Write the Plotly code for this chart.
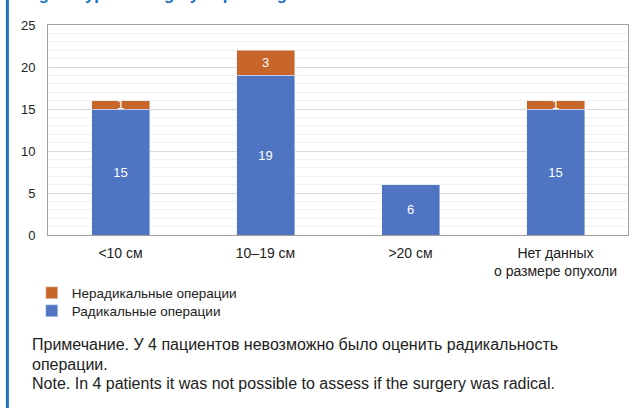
import plotly.graph_objects as go

categories = ["<10 см", "10–19 см", ">20 см", "Нет данных<br>о размере опухоли"]
radical = [15, 19, 6, 15]
nonradical = [1, 3, 0, 1]
legend_names = ["Радикальные операции", "Нерадикальные операции"]
note_lines = ["Примечание. У 4 пациентов невозможно было оценить радикальность",
              "операции.",
              "Note. In 4 patients it was not possible to assess if the surgery was radical."]
title_text = "Fig. 1. Type of surgery depending on tumor size"

BLUE = "#4E74C2"
ORANGE = "#C8662A"
FONT = "Liberation Sans, Arial, sans-serif"

fig = go.Figure()
fig.add_trace(go.Bar(
    x=categories, y=radical, name=legend_names[0], marker_color=BLUE,
    text=[str(v) if v else "" for v in radical], textposition="inside",
    insidetextanchor="middle", textangle=0, constraintext="none",
    textfont=dict(color="white", size=13, family=FONT), width=0.4,
    legend="legend2",
))
fig.add_trace(go.Bar(
    x=categories, y=nonradical, name=legend_names[1], marker_color=ORANGE,
    text=[str(v) if v else "" for v in nonradical], textposition="inside",
    insidetextanchor="middle", textangle=0, constraintext="none",
    textfont=dict(color="white", size=13, family=FONT), width=0.4,
    legend="legend",
))

leg_common = dict(orientation="v", x=-0.028, xanchor="left", yanchor="middle",
                  font=dict(size=13.5, color="#222222", family=FONT),
                  itemclick=False, itemdoubleclick=False, bgcolor="rgba(0,0,0,0)")

fig.update_layout(
    width=633, height=408,
    margin=dict(l=48, r=5, t=25, b=173, autoexpand=False),
    barmode="stack",
    paper_bgcolor="white", plot_bgcolor="white",
    font=dict(family=FONT, size=13, color="#222222"),
    showlegend=True,
    legend=dict(y=-0.276, **leg_common),
    legend2=dict(y=-0.362, **leg_common),
    xaxis=dict(showgrid=False, showline=True, linecolor="#A39E9E", mirror=True,
               linewidth=1, ticks="", tickfont=dict(size=14), zeroline=False,
               ticklabelstandoff=5),
    yaxis=dict(range=[0, 25], dtick=5, showgrid=True, gridcolor="#DADADA",
               showline=True, linecolor="#A39E9E", mirror=True, linewidth=1,
               ticks="", tickfont=dict(size=13), zeroline=False,
               ticklabelstandoff=9,
               minor=dict(dtick=1, showgrid=True, gridcolor="#F0F0F0")),
)

for line, yy in zip(note_lines, [-0.5238, -0.619, -0.705]):
    fig.add_annotation(text=line, xref="paper", yref="paper", x=-0.031, y=yy,
                       xanchor="left", yanchor="middle", align="left", showarrow=False,
                       font=dict(size=16, color="#222222", family=FONT))
fig.add_annotation(text="<b>" + title_text + "</b>", xref="paper", yref="paper",
                   x=-0.045, y=1.150, xanchor="left", yanchor="middle", align="left",
                   showarrow=False, font=dict(size=16.5, color="#1A6FC0", family=FONT))
fig.add_shape(type="line", xref="paper", yref="paper", x0=-0.0700, x1=-0.0700,
              y0=-0.9, y1=1.2, line=dict(color="#1E73BE", width=3))

fig.write_html("out.html", config={"displayModeBar": False},
               post_script="document.body.style.margin='0';document.body.style.overflow='hidden';")
